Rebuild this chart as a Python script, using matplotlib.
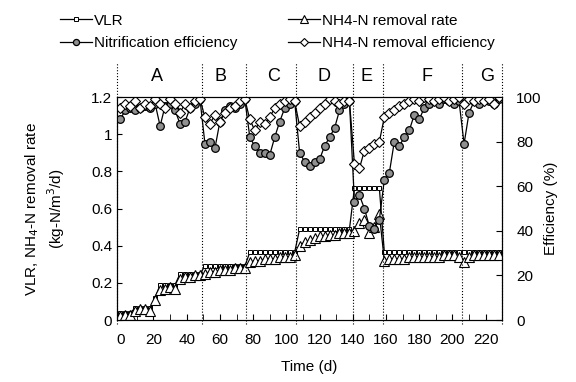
import matplotlib
matplotlib.use("Agg")
import matplotlib.pyplot as plt
from matplotlib.ticker import MultipleLocator

plt.rcParams['font.family'] = ['Liberation Sans', 'DejaVu Sans']

# === Data ===
days = [0, 3, 6, 9, 12, 15, 18, 21, 24, 27, 30, 33, 36, 39, 42, 45, 48,
        51, 54, 57, 60, 63, 66, 69, 72, 75,
        78, 81, 84, 87, 90, 93, 96, 99, 102, 105,
        108, 111, 114, 117, 120, 123, 126, 129, 132, 135, 138,
        141, 144, 147, 150, 153, 156,
        159, 162, 165, 168, 171, 174, 177, 180, 183, 186, 189, 192, 195, 198, 201, 204,
        207, 210, 213, 216, 219, 222, 225, 228]

vlr = [0.04, 0.04, 0.04, 0.065, 0.065, 0.065, 0.065, 0.12, 0.19, 0.19, 0.19, 0.19, 0.25, 0.25, 0.25, 0.25, 0.25,
       0.29, 0.29, 0.29, 0.29, 0.29, 0.29, 0.29, 0.29, 0.29,
       0.365, 0.365, 0.365, 0.365, 0.365, 0.365, 0.365, 0.365, 0.365, 0.365,
       0.49, 0.49, 0.49, 0.49, 0.49, 0.49, 0.49, 0.49, 0.49, 0.49, 0.49,
       0.71, 0.71, 0.71, 0.71, 0.71, 0.71,
       0.365, 0.365, 0.365, 0.365, 0.365, 0.365, 0.365, 0.365, 0.365, 0.365, 0.365, 0.365, 0.365, 0.365, 0.365, 0.365,
       0.365, 0.365, 0.365, 0.365, 0.365, 0.365, 0.365, 0.365]

removal_rate = [0.02, 0.03, 0.03, 0.05, 0.06, 0.06, 0.05, 0.11, 0.16, 0.17, 0.18, 0.17, 0.22, 0.23, 0.23, 0.24, 0.24,
                0.25, 0.26, 0.26, 0.27, 0.27, 0.27, 0.28, 0.28, 0.28,
                0.31, 0.32, 0.32, 0.33, 0.33, 0.33, 0.34, 0.34, 0.34, 0.35,
                0.40, 0.42, 0.43, 0.44, 0.45, 0.45, 0.46, 0.46, 0.47, 0.47, 0.47,
                0.48, 0.52, 0.54, 0.47, 0.50, 0.57,
                0.32, 0.33, 0.33, 0.33, 0.33, 0.34, 0.34, 0.34, 0.34, 0.34, 0.34, 0.34, 0.35, 0.35, 0.35, 0.34,
                0.31, 0.34, 0.35, 0.35, 0.35, 0.35, 0.35, 0.35]

nitrification = [90, 94, 95, 94, 95, 96, 95, 97, 87, 96, 97, 94, 88, 89, 95, 97, 99,
                 79, 80, 77, 89, 94, 96, 95, 97, 99,
                 82, 78, 75, 75, 74, 82, 89, 95, 97, 98,
                 75, 71, 69, 71, 72, 78, 82, 86, 94, 97, 98,
                 53, 56, 50, 42, 41, 45,
                 63, 66, 80, 78, 82, 85, 92, 90, 95, 97, 98, 97, 99, 98, 97, 98,
                 79, 93, 98, 97, 99, 98, 97, 99]

removal_eff = [95, 97, 96, 98, 95, 97, 96, 99, 97, 95, 99, 97, 93, 97, 95, 98, 99,
               91, 88, 92, 89, 93, 95, 96, 98, 99,
               90, 85, 89, 88, 91, 95, 97, 98, 99, 98,
               87, 89, 91, 93, 95, 97, 99, 98, 97, 98, 98,
               70, 68, 76, 77, 79, 80,
               91, 93, 94, 96, 97, 98, 99, 98, 100, 99, 98, 99, 100, 98, 99, 100,
               97, 99, 98, 99, 98, 99, 97, 100]

phase_bounds = [-2, 49, 76, 106, 140, 158, 206, 230]
phase_names = ['A', 'B', 'C', 'D', 'E', 'F', 'G']
phase_centers = [22, 60.5, 92.5, 122.5, 148, 184.5, 221]

# === Plot ===
fig = plt.figure(figsize=(5.76, 3.82), dpi=100)
ax = fig.add_axes([0.203, 0.162, 0.669, 0.584])
ax2 = ax.twinx()

l1, = ax.plot(days, vlr, color='black', lw=0.9, marker='s', ms=3,
              mfc='white', mec='black', mew=0.7)
l2, = ax.plot(days, removal_rate, color='black', lw=0.9, marker='^', ms=6.5,
              mfc='white', mec='black', mew=0.8)
l3, = ax2.plot(days, nitrification, color='black', lw=0.9, marker='o', ms=5.5,
               mfc='#909090', mec='black', mew=0.9)
l4, = ax2.plot(days, removal_eff, color='black', lw=0.9, marker='D', ms=5.5,
               mfc='white', mec='black', mew=0.8)

ax.set_xlim(-2, 230)
ax.set_ylim(0, 1.2)
ax2.set_ylim(0, 100)

# phase boundaries (dotted, run above the frame)
ax.vlines(phase_bounds, -0.02, 1.39, colors='black', linestyles=':', lw=0.8, clip_on=False)
for name, xc in zip(phase_names, phase_centers):
    ax.text(xc, 1.31, name, ha='center', va='center', fontsize=13)

ax.xaxis.set_major_locator(MultipleLocator(20))
ax.xaxis.set_minor_locator(MultipleLocator(10))
ax2.yaxis.set_major_locator(MultipleLocator(20))
ax.set_yticks([0, 0.2, 0.4, 0.6, 0.8, 1, 1.2])
ax.set_yticklabels(['0', '0.2', '0.4', '0.6', '0.8', '1', '1.2'])

ax.tick_params(axis='both', which='both', direction='in', labelsize=11)
ax.tick_params(axis='x', which='major', length=4, pad=9.5)
ax.tick_params(axis='x', which='minor', length=4)
ax2.tick_params(axis='y', direction='in', labelsize=11, length=4, pad=10)

ax.set_xlabel('Time (d)', fontsize=11, labelpad=9)
ax.set_ylabel('VLR, NH$_4$-N removal rate\n(kg-N/m$^3$/d)', fontsize=11,
              linespacing=1.3, labelpad=17)
ax2.set_ylabel('Efficiency (%)', fontsize=11, labelpad=2)

fig.legend([l1, l3, l2, l4],
           ['VLR', 'Nitrification efficiency', 'NH4-N removal rate', 'NH4-N removal efficiency'],
           ncol=2, frameon=False, fontsize=11, loc='upper left',
           bbox_to_anchor=(0.08, 1.0), handlelength=2.1, handletextpad=0.15,
           columnspacing=3.3, labelspacing=0.55, markerscale=0.8)

plt.savefig('out.png', dpi=100)
